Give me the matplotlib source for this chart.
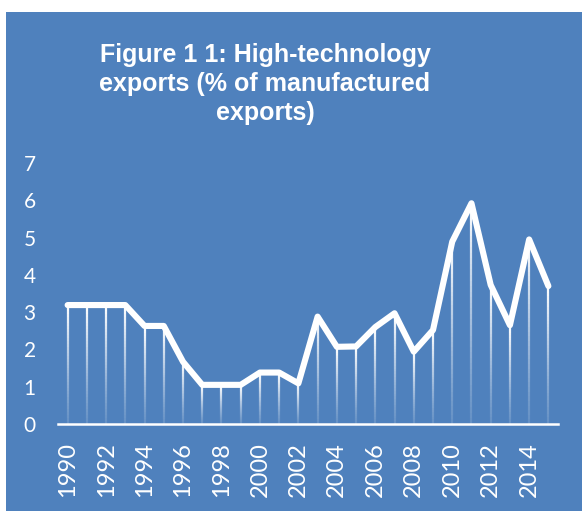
import numpy as np
import matplotlib
matplotlib.use("Agg")
import matplotlib.pyplot as plt
from matplotlib.patches import Rectangle
from matplotlib.collections import LineCollection

years = np.arange(1990, 2016)
hitech_share = [3.19, 3.19, 3.19, 3.19, 2.63, 2.63, 1.67, 1.05, 1.05, 1.05,
                1.38, 1.38, 1.09, 2.88, 2.07, 2.08, 2.60, 2.97, 1.94, 2.52,
                4.89, 5.92, 3.73, 2.65, 4.95, 3.70]
tick_years = [str(y) if y % 2 == 0 else "" for y in years]

W, H = 582, 511
bg = "#4f81bd"

fig = plt.figure(figsize=(W / 100, H / 100), dpi=100, facecolor="white")
# blue panel behind everything
fig.patches.append(Rectangle((6 / W, 0), 1 - 6 / W, 1 - 12 / H,
                             transform=fig.transFigure, facecolor=bg,
                             edgecolor="none", zorder=-10))

ax = fig.add_axes([58 / W, 87 / H, 500 / W, 261 / H])
ax.set_facecolor("none")
ax.set_zorder(1)

x = np.arange(len(years))
ax.set_xlim(-0.5, len(years) - 0.5)
ax.set_ylim(0, 7)

# drop lines fading toward the baseline
n = 40
segs, cols = [], []
for xi, v in zip(x, hitech_share):
    ys = np.linspace(0, v, n + 1)
    for k in range(n):
        segs.append([(xi, ys[k]), (xi, ys[k + 1])])
        a = 0.12 + 0.88 * (ys[k + 1] / v) ** 1.2 if v > 0 else 0
        cols.append((1, 1, 1, min(a, 1)))
ax.add_collection(LineCollection(segs, colors=cols, linewidths=1.6,
                                 capstyle="butt", zorder=2))

ax.plot(x, hitech_share, color="white", lw=4.4, solid_capstyle="round",
        solid_joinstyle="round", zorder=3)

for s in ["top", "right", "left"]:
    ax.spines[s].set_visible(False)
ax.spines["bottom"].set_color("white")
ax.spines["bottom"].set_linewidth(1.8)
ax.spines["bottom"].set_zorder(4)

ax.set_yticks(range(8))
ax.set_xticks(x)
ax.set_xticklabels(tick_years, rotation=90, fontsize=17, family="Lato",
                   color="white")
ax.tick_params(axis="y", labelsize=15, labelcolor="white", length=0, pad=16)
ax.tick_params(axis="x", length=0, pad=13)
for lab in ax.get_yticklabels():
    lab.set_family("Lato")

fig.text(265 / W, 1 - 84 / H,
         "Figure 1 1: High-technology\nexports (% of manufactured\nexports)",
         ha="center", va="center", color="white", fontsize=18,
         fontweight="bold", family="Liberation Sans",
         linespacing=1.28)

fig.savefig("out.png", dpi=100, facecolor="white")
